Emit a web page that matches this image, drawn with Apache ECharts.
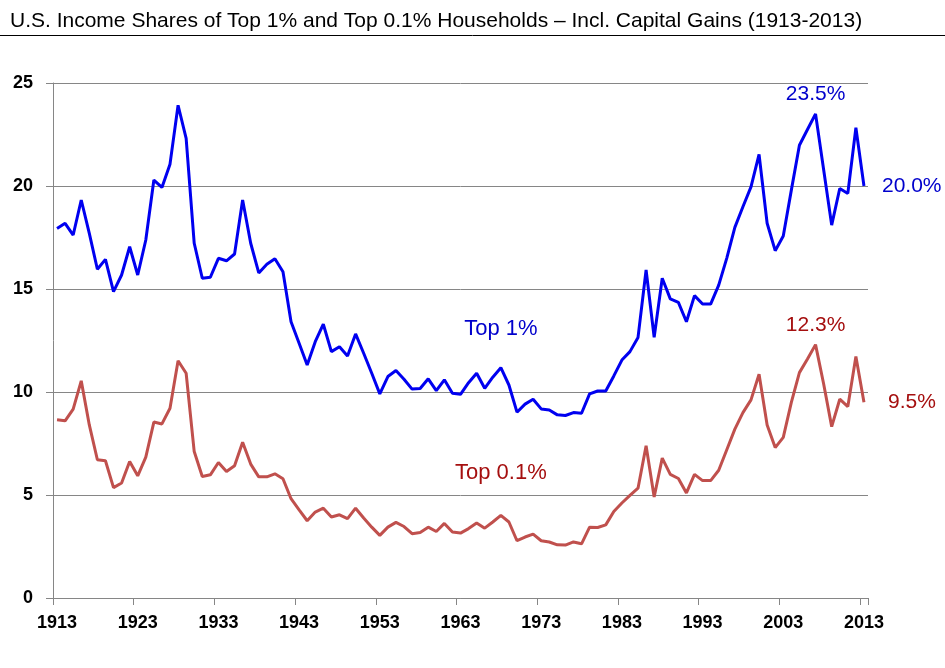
<!DOCTYPE html>
<html>
<head>
<meta charset="utf-8">
<script src="https://cdn.jsdelivr.net/npm/echarts@6/dist/echarts.min.js"></script>
<style>
html,body{margin:0;padding:0;background:#fff;}
#c{width:945px;height:668px;}
</style>
</head>
<body>
<div id="c"></div>
<script>
const titleText = 'U.S. Income Shares of Top 1% and Top 0.1% Households \u2013 Incl. Capital Gains (1913-2013)';
const firstYear = 1913, lastYear = 2013;
const years = [];
for (let y = firstYear; y <= lastYear; y++) years.push(String(y));

const top1 = [
  17.94, 18.19, 17.62, 19.32, 17.70, 15.96, 16.44, 14.87, 15.68, 17.05,
  15.68, 17.38, 20.29, 19.93, 21.06, 23.92, 22.31, 17.22, 15.52, 15.57,
  16.49, 16.37, 16.70, 19.32, 17.22, 15.78, 16.20, 16.47, 15.84, 13.41,
  12.37, 11.31, 12.44, 13.29, 11.96, 12.20, 11.75, 12.82, 11.88, 10.91,
  9.91, 10.75, 11.04, 10.62, 10.14, 10.17, 10.64, 10.07, 10.59, 9.94,
  9.89, 10.45, 10.91, 10.18, 10.72, 11.18, 10.34, 9.02, 9.41, 9.65,
  9.18, 9.13, 8.89, 8.86, 9.00, 8.97, 9.91, 10.05, 10.05, 10.78,
  11.55, 11.96, 12.65, 15.92, 12.66, 15.52, 14.52, 14.35, 13.41, 14.68,
  14.27, 14.27, 15.19, 16.50, 17.99, 18.99, 19.96, 21.53, 18.19, 16.86,
  17.57, 19.80, 21.98, 22.74, 23.50, 20.80, 18.10, 19.88, 19.64, 22.83,
  20.00
];
const top01 = [
  8.65, 8.60, 9.17, 10.54, 8.40, 6.71, 6.66, 5.36, 5.58, 6.63,
  5.93, 6.84, 8.54, 8.45, 9.21, 11.52, 10.91, 7.11, 5.90, 5.98,
  6.58, 6.14, 6.42, 7.56, 6.50, 5.88, 5.88, 6.03, 5.79, 4.82,
  4.28, 3.75, 4.17, 4.36, 3.93, 4.04, 3.85, 4.36, 3.88, 3.44,
  3.04, 3.44, 3.67, 3.47, 3.12, 3.18, 3.44, 3.23, 3.62, 3.20,
  3.15, 3.37, 3.64, 3.39, 3.69, 4.01, 3.69, 2.78, 2.96, 3.10,
  2.78, 2.72, 2.58, 2.57, 2.72, 2.63, 3.44, 3.42, 3.55, 4.20,
  4.61, 4.98, 5.33, 7.39, 4.90, 6.79, 6.00, 5.80, 5.10, 6.00,
  5.70, 5.70, 6.20, 7.20, 8.20, 9.00, 9.62, 10.86, 8.40, 7.30,
  7.80, 9.50, 10.94, 11.60, 12.30, 10.40, 8.32, 9.65, 9.29, 11.72,
  9.50
];
const peakYear = '2007';
const seriesNames = ['Top 1%', 'Top 0.1%'];
const labelSpots = [['1968', 13.06], ['1968', 6.08]];
const yTicks = {min: 0, max: 25, interval: 5};

const blue = '#0000f0', blueText = '#0000cc';
const red = '#c0504d', redText = '#a50f0f';
const font = 'Liberation Sans';

function pct(v) { return v.toFixed(1) + '%'; }

function marks(vals, name, spot, textColor, endDist) {
  const pi = years.indexOf(peakYear);
  const li = vals.length - 1;
  const base = {show: true, color: textColor, fontFamily: font};
  return {
    symbol: 'circle', symbolSize: 0, silent: true,
    data: [
      {coord: spot, label: Object.assign({}, base, {position: 'inside', formatter: name, fontSize: 22})},
      {coord: [years[pi], vals[pi]], label: Object.assign({}, base, {position: 'top', distance: 9, formatter: pct(vals[pi]), fontSize: 21})},
      {coord: [years[li], vals[li]], label: Object.assign({}, base, {position: 'right', distance: endDist, formatter: pct(vals[li]), fontSize: 21})}
    ]
  };
}

const chart = echarts.init(document.getElementById('c'), null, {renderer: 'canvas'});
chart.setOption({
  animation: false,
  backgroundColor: '#fff',
  title: {
    text: titleText, left: 5, top: 6,
    textStyle: {fontFamily: font, fontSize: 21, fontWeight: 'normal', color: '#000'}
  },
  graphic: [{
    type: 'line', shape: {x1: 0, y1: 35.5, x2: 945, y2: 35.5},
    style: {stroke: '#000', lineWidth: 1}
  }],
  grid: {left: 53, right: 77, top: 83, bottom: 70},
  xAxis: {
    type: 'category', data: years, boundaryGap: true,
    axisLine: {lineStyle: {color: '#868686', width: 1}},
    axisTick: {show: true, interval: 9, length: 7, lineStyle: {color: '#868686'}},
    axisLabel: {interval: 9, fontFamily: font, fontSize: 18, fontWeight: 'bold', color: '#000', margin: 16}
  },
  yAxis: {
    type: 'value', min: yTicks.min, max: yTicks.max, interval: yTicks.interval,
    axisLine: {show: true, lineStyle: {color: '#868686', width: 1}},
    axisTick: {show: true, length: 7, lineStyle: {color: '#868686'}},
    splitLine: {show: true, lineStyle: {color: '#868686', width: 1}},
    axisLabel: {fontFamily: font, fontSize: 18, fontWeight: 'bold', color: '#000', margin: 20}
  },
  series: [
    {
      name: seriesNames[0], type: 'line', data: top1,
      showSymbol: false, symbol: 'none', lineStyle: {color: blue, width: 3}, itemStyle: {color: blue},
      markPoint: marks(top1, seriesNames[0], labelSpots[0], blueText, 18),
      z: 3
    },
    {
      name: seriesNames[1], type: 'line', data: top01,
      showSymbol: false, symbol: 'none', lineStyle: {color: red, width: 3}, itemStyle: {color: red},
      markPoint: marks(top01, seriesNames[1], labelSpots[1], redText, 24),
      z: 2
    }
  ]
});
</script>
</body>
</html>
